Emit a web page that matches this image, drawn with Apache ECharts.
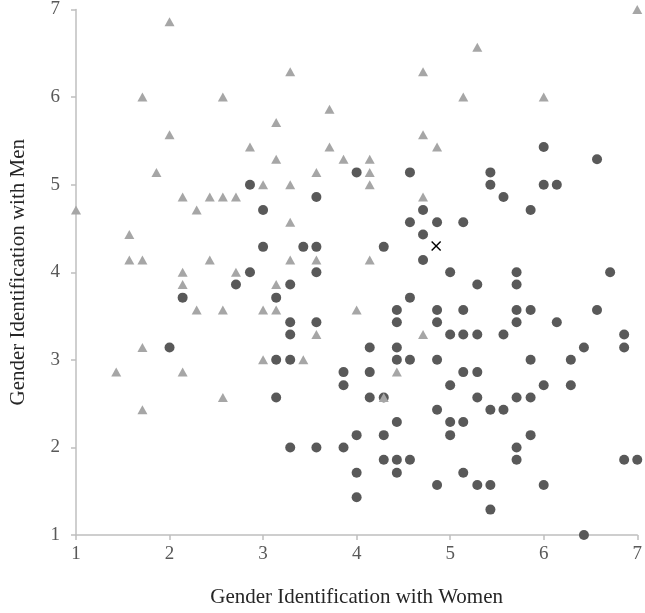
<!DOCTYPE html>
<html>
<head>
<meta charset="utf-8">
<script src="https://cdn.jsdelivr.net/npm/echarts@6/dist/echarts.min.js"></script>
<style>
html,body{margin:0;padding:0;background:#fff;}
#chart{width:645px;height:613px;}
</style>
</head>
<body>
<div id="chart"></div>
<script>
// Axis ticks
var xTicks = [1, 2, 3, 4, 5, 6, 7];
var yTicks = [1, 2, 3, 4, 5, 6, 7];
var xAxisTitle = 'Gender Identification with Women';
var yAxisTitle = 'Gender Identification with Men';

// Triangle series (light gray)
var triangleX = [2, 1.71, 2.57, 2, 2.86, 1.86, 3, 2.14, 2.43, 2.57, 2.71,
  3.29, 4.71, 3.71, 3.14, 4.71, 4.86, 3.71, 3.14, 3.86, 4.14, 3.57, 4.14, 3.29, 4.14, 4.71,
  7, 5.29, 5.14, 6,
  1, 2.29, 1.57, 1.57, 1.71, 2.43, 2.14, 2.71, 2.14, 2.29, 2.57, 3, 1.71, 3, 1.43, 2.14,
  3.29, 3.29, 3.57, 4.14, 3.14, 3.14, 4, 3.57, 4.71, 3.43, 4.43,
  1.71, 2.57, 4.29];
var triangleY = [6.86, 6, 6, 5.57, 5.43, 5.14, 5, 4.86, 4.86, 4.86, 4.86,
  6.29, 6.29, 5.86, 5.71, 5.57, 5.43, 5.43, 5.29, 5.29, 5.29, 5.14, 5.14, 5, 5, 4.86,
  7, 6.57, 6, 6,
  4.71, 4.71, 4.43, 4.14, 4.14, 4.14, 4, 4, 3.86, 3.57, 3.57, 3.57, 3.14, 3, 2.86, 2.86,
  4.57, 4.14, 4.14, 4.14, 3.86, 3.57, 3.57, 3.29, 3.29, 3, 2.86,
  2.43, 2.57, 2.57];

// Circle series (dark gray)
var circleX = [2.86, 4, 4.57, 3.57, 6, 6.57, 5.43, 5.43, 6, 6.14, 5.57,
  3, 3, 2.86, 2.71, 2.14, 2,
  4.57, 4.86, 4.71, 4.71, 3.43, 3.57, 4.29, 4.71, 3.57, 5,
  3.29, 3.14, 4.57, 4.43, 4.86, 3.29, 3.57, 4.43, 4.86, 3.29, 5,
  4.14, 4.43, 3.14, 3.29, 4.43, 4.57, 4.86, 3.86, 4.14, 3.86, 5,
  5.86, 5.14, 5.71, 6.71, 5.29, 5.71, 5.14, 5.71, 5.86, 6.57, 5.71, 6.14,
  5.14, 5.29, 5.57, 6.86, 6.43, 6.86, 5.86, 6.29, 5.14, 5.29, 6, 6.29,
  3.14, 4.14, 4.29, 4.86, 4.43, 5, 4, 4.29, 5, 3.29, 3.57, 3.86,
  4.29, 4.43, 4.57, 4, 4.43, 4.86, 4,
  5.29, 5.71, 5.86, 5.43, 5.57, 5.14, 5.86, 5.71, 5.71, 6.86, 7,
  5.14, 5.29, 5.43, 6, 5.43, 6.43];
var circleY = [5, 5.14, 5.14, 4.86, 5.43, 5.29, 5.14, 5, 5, 5, 4.86,
  4.71, 4.29, 4, 3.86, 3.71, 3.14,
  4.57, 4.57, 4.71, 4.43, 4.29, 4.29, 4.29, 4.14, 4, 4,
  3.86, 3.71, 3.71, 3.57, 3.57, 3.43, 3.43, 3.43, 3.43, 3.29, 3.29,
  3.14, 3.14, 3, 3, 3, 3, 3, 2.86, 2.86, 2.71, 2.71,
  4.71, 4.57, 4, 4, 3.86, 3.86, 3.57, 3.57, 3.57, 3.57, 3.43, 3.43,
  3.29, 3.29, 3.29, 3.29, 3.14, 3.14, 3, 3, 2.86, 2.86, 2.71, 2.71,
  2.57, 2.57, 2.57, 2.43, 2.29, 2.29, 2.14, 2.14, 2.14, 2, 2, 2,
  1.86, 1.86, 1.86, 1.71, 1.71, 1.57, 1.43,
  2.57, 2.57, 2.57, 2.43, 2.43, 2.29, 2.14, 2, 1.86, 1.86, 1.86,
  1.71, 1.57, 1.57, 1.57, 1.29, 1];

// Cross marker
var crossX = [4.85];
var crossY = [4.3];

function zip(xs, ys) {
  var out = [];
  for (var i = 0; i < xs.length; i++) out.push([xs[i], ys[i]]);
  return out;
}

var labelFont = 'Liberation Serif, Times New Roman, serif';
var chart = echarts.init(document.getElementById('chart'), null, {renderer: 'canvas'});
chart.setOption({
  animation: false,
  backgroundColor: '#ffffff',
  grid: {left: 69, right: 5, top: 7, bottom: 72, containLabel: false},
  xAxis: {
    type: 'value', min: xTicks[0], max: xTicks[xTicks.length - 1], interval: 1,
    name: xAxisTitle, nameLocation: 'middle', nameGap: 52,
    nameTextStyle: {fontFamily: labelFont, fontSize: 21, color: '#262626'},
    axisLine: {show: true, lineStyle: {color: '#bfbfbf', width: 1.5}},
    axisTick: {show: true, inside: false, length: 5, lineStyle: {color: '#bfbfbf', width: 1.5}},
    axisLabel: {fontFamily: labelFont, fontSize: 19, color: '#595959', margin: 10},
    splitLine: {show: false}
  },
  yAxis: {
    type: 'value', min: yTicks[0], max: yTicks[yTicks.length - 1], interval: 1,
    name: yAxisTitle, nameLocation: 'middle', nameGap: 47,
    nameTextStyle: {fontFamily: labelFont, fontSize: 21, color: '#262626'},
    axisLine: {show: true, lineStyle: {color: '#bfbfbf', width: 1.5}},
    axisTick: {show: true, inside: false, length: 5, lineStyle: {color: '#bfbfbf', width: 1.5}},
    axisLabel: {fontFamily: labelFont, fontSize: 19, color: '#595959', margin: 16},
    splitLine: {show: false}
  },
  series: [
    {
      type: 'scatter', name: 'circles', data: zip(circleX, circleY),
      symbol: 'circle', symbolSize: 10,
      itemStyle: {color: '#595959', opacity: 1}
    },
    {
      type: 'scatter', name: 'triangles', data: zip(triangleX, triangleY),
      symbol: 'triangle', symbolSize: [10, 9],
      itemStyle: {color: '#a6a6a6', opacity: 1}
    },
    {
      type: 'scatter', name: 'cross', data: zip(crossX, crossY),
      symbol: 'path://M0,1 L1,0 L5,4 L9,0 L10,1 L6,5 L10,9 L9,10 L5,6 L1,10 L0,9 L4,5 Z',
      symbolSize: 10,
      itemStyle: {color: '#000000', opacity: 1}
    }
  ]
});
</script>
</body>
</html>
